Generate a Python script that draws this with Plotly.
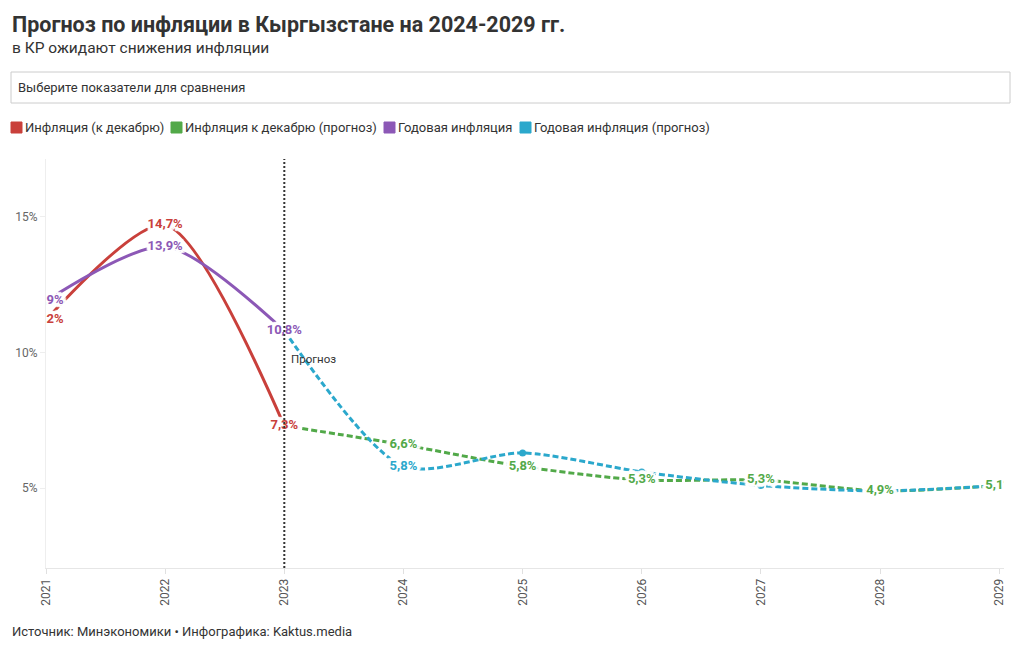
import plotly.graph_objects as go

# ---------------- data ----------------
years_hist = [2021, 2022, 2023]
dec_infl = [11.2, 14.7, 7.3]          # Инфляция (к декабрю)
annual_infl = [11.9, 13.9, 10.8]      # Годовая инфляция

years_fc = [2023, 2024, 2025, 2026, 2027, 2028, 2029]
dec_infl_fc = [7.3, 6.6, 5.8, 5.3, 5.3, 4.9, 5.1]      # Инфляция к декабрю (прогноз)
annual_infl_fc = [10.8, 5.8, 6.3, 5.6, 5.1, 4.9, 5.1]  # Годовая инфляция (прогноз)

# which points carry a visible value label
dec_labels = [2021, 2022, 2023]
annual_labels = [2021, 2022, 2023]
dec_fc_labels = [2024, 2025, 2026, 2027, 2028, 2029]
annual_fc_labels = [2024]

series_names = ["Инфляция (к декабрю)", "Инфляция к декабрю (прогноз)",
                "Годовая инфляция", "Годовая инфляция (прогноз)"]
x_ticks = [2021, 2022, 2023, 2024, 2025, 2026, 2027, 2028, 2029]
y_ticks = [5, 10, 15]
y_tick_text = ["5%", "10%", "15%"]

# ---------------- style ----------------
RED, GREEN, PURPLE, BLUE = "#c9403b", "#52a949", "#8c58b6", "#2ba8cc"
colors = [RED, GREEN, PURPLE, BLUE]
FONT = "Roboto, 'Noto Sans', sans-serif"
W, H = 1020, 650
ML, MR, MT, MB = 46, 16, 159, 82


def px_x(px):
    return (px - ML) / (W - ML - MR)


def px_y(py):
    return (H - MB - py) / (H - MT - MB)


def fmt(v):
    return f"{v:.1f}".replace(".", ",") + "%"


halo = ("-2px -2px 0 #fff, 2px -2px 0 #fff, -2px 2px 0 #fff, 2px 2px 0 #fff, "
        "0 3px 0 #fff, 0 -3px 0 #fff, 3px 0 0 #fff, -3px 0 0 #fff, "
        "0 4px 1px #fff, 0 -4px 1px #fff, 4px 0 1px #fff, -4px 0 1px #fff, "
        "3px 3px 1px #fff, -3px -3px 1px #fff, 3px -3px 1px #fff, -3px 3px 1px #fff")

fig = go.Figure()

line_specs = [
    (years_hist, dec_infl, RED, "solid"),
    (years_hist, annual_infl, PURPLE, "solid"),
    (years_fc, dec_infl_fc, GREEN, "6px,3px"),
    (years_fc, annual_infl_fc, BLUE, "6px,3px"),
]
for xs, ys, col, dash in line_specs:
    fig.add_trace(go.Scatter(
        x=xs, y=ys, mode="lines+markers",
        line=dict(color=col, width=3, shape="spline", smoothing=0.75, dash=dash),
        marker=dict(color=col, size=7),
        showlegend=False, hoverinfo="skip"))

label_specs = [
    (years_hist, dec_infl, dec_labels, RED),
    (years_hist, annual_infl, annual_labels, PURPLE),
    (years_fc, dec_infl_fc, dec_fc_labels, GREEN),
    (years_fc, annual_infl_fc, annual_fc_labels, BLUE),
]
for xs, ys, shown, col in label_specs:
    lx = [x for x in xs if x in shown]
    ly = [y for x, y in zip(xs, ys) if x in shown]
    fig.add_trace(go.Scatter(
        x=lx, y=ly, mode="text", text=[fmt(v) for v in ly],
        textposition="middle center", cliponaxis=True,
        textfont=dict(family=FONT, size=13, color=col, weight="bold", shadow=halo),
        showlegend=False, hoverinfo="skip"))

shapes = []
annotations = []

# forecast divider
shapes.append(dict(type="line", xref="x", yref="paper", x0=2023, x1=2023, y0=0, y1=1,
                   line=dict(color="#333", width=2, dash="2px,2px")))
annotations.append(dict(xref="x", yref="y", x=2023, y=9.75, xshift=5, text="Прогноз",
                        showarrow=False, xanchor="left", yanchor="middle",
                        font=dict(family=FONT, size=11.5, color="#333")))

# title & subtitle
annotations.append(dict(xref="paper", yref="paper", x=px_x(10), y=px_y(25),
                        text="<b>Прогноз по инфляции в Кыргызстане на 2024-2029 гг.</b>",
                        showarrow=False, xanchor="left", yanchor="middle",
                        font=dict(family=FONT, size=21.5, color="#333")))
annotations.append(dict(xref="paper", yref="paper", x=px_x(10), y=px_y(48),
                        text="в КР ожидают снижения инфляции",
                        showarrow=False, xanchor="left", yanchor="middle",
                        font=dict(family=FONT, size=15.5, color="#333")))

# selector box
x0, x1, y0, y1 = px_x(11), px_x(1010), px_y(103), px_y(72)
shapes.append(dict(type="rect", xref="paper", yref="paper", x0=x0, x1=x1, y0=y0, y1=y1,
                   line=dict(color="#cccccc", width=1), fillcolor="white", layer="below"))
annotations.append(dict(xref="paper", yref="paper", x=px_x(16), y=px_y(88),
                        text="Выберите показатели для сравнения",
                        showarrow=False, xanchor="left", yanchor="middle",
                        font=dict(family=FONT, size=13, color="#333")))

# legend
leg_x = [11, 171, 384, 520]
for lx, name, col in zip(leg_x, series_names, colors):
    sx0, sx1 = px_x(lx), px_x(lx + 11)
    sy0, sy1 = px_y(133), px_y(122)
    shapes.append(dict(type="rect", xref="paper", yref="paper", x0=sx0, x1=sx1, y0=sy0, y1=sy1,
                       line=dict(color=col, width=1), fillcolor=col))
    annotations.append(dict(xref="paper", yref="paper", x=px_x(lx + 12), y=px_y(127.5), text=name,
                            showarrow=False, xanchor="left", yanchor="middle",
                            font=dict(family=FONT, size=13, color="#333")))

# footer
annotations.append(dict(xref="paper", yref="paper", x=px_x(10), y=px_y(631),
                        text="Источник: Минэкономики • Инфографика: Kaktus.media",
                        showarrow=False, xanchor="left", yanchor="middle",
                        font=dict(family=FONT, size=13, color="#333")))

fig.update_layout(
    width=W, height=H,
    margin=dict(l=ML, r=MR, t=MT, b=MB),
    paper_bgcolor="white", plot_bgcolor="white",
    font=dict(family=FONT),
    shapes=shapes, annotations=annotations,
    showlegend=False,
    xaxis=dict(range=[2021, 2029.04], tickvals=x_ticks, tickangle=-90,
               tickfont=dict(family=FONT, size=12, color="#555"),
               showgrid=False, zeroline=False, showline=True, linecolor="#e6e6e6",
               ticks="outside", ticklen=5, tickcolor="#e0e0e0"),
    yaxis=dict(range=[2.06, 17.13], tickmode="array", tickvals=y_ticks, ticktext=y_tick_text,
               tickfont=dict(family=FONT, size=12, color="#666"),
               showgrid=False, zeroline=False, showline=True, linecolor="#eeeeee",
               ticks="outside", ticklen=5, tickcolor="#eeeeee"),
)

fig.write_html("out.html")
